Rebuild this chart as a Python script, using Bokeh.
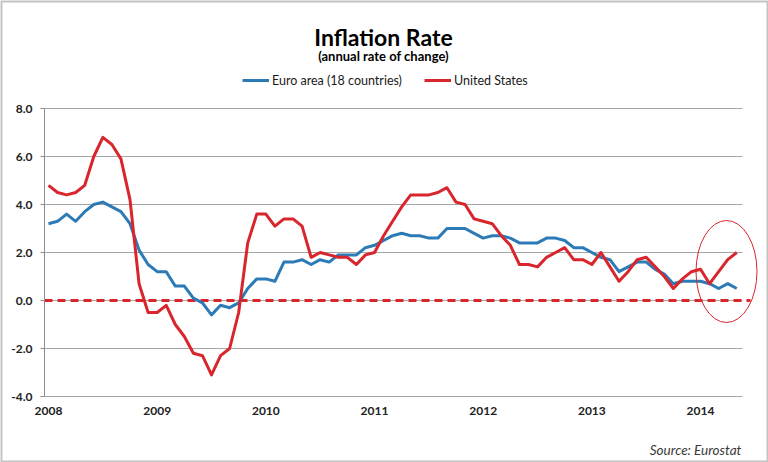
from bokeh.plotting import figure
from bokeh.models import (ColumnDataSource, FixedTicker, NumeralTickFormatter,
                          Legend, LegendItem)
from bokeh.core.properties import value
from bokeh.embed import file_html
from bokeh.resources import INLINE

# ---------------- data ----------------
years = ["2008", "2009", "2010", "2011", "2012", "2013", "2014"]
series_names = ["Euro area (18 countries)", "United States"]

euro = [3.2, 3.3, 3.6, 3.3, 3.7, 4.0, 4.1, 3.9, 3.7, 3.2, 2.1, 1.5,
        1.2, 1.2, 0.6, 0.6, 0.1, -0.1, -0.6, -0.2, -0.3, -0.1, 0.5, 0.9,
        0.9, 0.8, 1.6, 1.6, 1.7, 1.5, 1.7, 1.6, 1.9, 1.9, 1.9, 2.2,
        2.3, 2.5, 2.7, 2.8, 2.7, 2.7, 2.6, 2.6, 3.0, 3.0, 3.0, 2.8,
        2.6, 2.7, 2.7, 2.6, 2.4, 2.4, 2.4, 2.6, 2.6, 2.5, 2.2, 2.2,
        2.0, 1.8, 1.7, 1.2, 1.4, 1.6, 1.6, 1.3, 1.1, 0.7, 0.8, 0.8,
        0.8, 0.7, 0.5, 0.7, 0.5]

us = [4.8, 4.5, 4.4, 4.5, 4.8, 6.0, 6.8, 6.5, 5.9, 4.2, 0.7, -0.5,
      -0.5, -0.2, -1.0, -1.5, -2.2, -2.3, -3.1, -2.3, -2.0, -0.5, 2.4, 3.6,
      3.6, 3.1, 3.4, 3.4, 3.1, 1.8, 2.0, 1.9, 1.8, 1.8, 1.5, 1.9,
      2.0, 2.7, 3.3, 3.9, 4.4, 4.4, 4.4, 4.5, 4.7, 4.1, 4.0, 3.4,
      3.3, 3.2, 2.7, 2.3, 1.5, 1.5, 1.4, 1.8, 2.0, 2.2, 1.7, 1.7,
      1.5, 2.0, 1.4, 0.8, 1.2, 1.7, 1.8, 1.4, 1.0, 0.5, 0.9, 1.2,
      1.3, 0.7, 1.2, 1.7, 2.0]

yticks = [-4, -2, 0, 2, 4, 6, 8]
months = list(range(len(euro)))          # month index, 0 = Jan 2008
year_ticks = [12 * k for k in range(len(years))]

title_text = "Inflation Rate"
subtitle_text = "(annual rate of change)"
source_text = "Source:  Eurostat"

# ---------------- layout (canvas pixels -> data) ----------------
W, H = 768, 462
PX_MONTH = 9.056          # pixels per month
PX_UNIT = 24.0            # pixels per percentage point
X0_PX, Y0_PX = 48, 300    # canvas position of (Jan 2008, 0.0)

x_start = -X0_PX / PX_MONTH
x_end = x_start + W / PX_MONTH
y_end = Y0_PX / PX_UNIT
y_start = y_end - H / PX_UNIT


def px2x(px):
    return x_start + px / PX_MONTH


def py2y(py):
    return y_end - py / PX_UNIT


axis_x = px2x(44)         # vertical axis position
grid_end = px2x(742)
dash_end = px2x(750)

BLUE = "#2C7BB7"
RED = "#D8262C"
GRID = "#A6A6A6"
FONT = "Lato"

p = figure(width=W, height=H, x_range=(x_start, x_end), y_range=(y_start, y_end),
           output_backend="svg", toolbar_location=None, title=None,
           min_border=0, min_border_left=0, min_border_right=0,
           min_border_top=0, min_border_bottom=0)
p.outline_line_color = None
p.xgrid.visible = False
p.ygrid.visible = False
p.background_fill_color = "white"
p.border_fill_color = "white"

# chart border
p.quad(left=[x_start], right=[x_end], top=[y_end], bottom=[y_start], fill_color=None,
       line_color="#C4C4C4", line_width=4)

# grid lines
gsrc = ColumnDataSource(dict(x0=[axis_x] * len(yticks), x1=[grid_end] * len(yticks),
                             y=yticks))
p.segment(x0="x0", x1="x1", y0="y", y1="y", source=gsrc, line_color=GRID, line_width=1)

# zero reference line
p.segment(x0=[axis_x], x1=[dash_end], y0=[0], y1=[0], line_color=RED, line_width=3,
          line_dash="8 5")

src = ColumnDataSource(dict(m=months, euro=euro, us=us))
r_eu = p.line("m", "euro", source=src, line_color=BLUE, line_width=3, line_join="round")
r_us = p.line("m", "us", source=src, line_color=RED, line_width=3, line_join="round")

# highlight ellipse around the latest months
p.ellipse(x=[px2x(726)], y=[py2y(271)], width=[61 / PX_MONTH], height=[102 / PX_UNIT],
          fill_color=None, line_color=RED, line_width=1)

# axes (fixed inside the full-canvas frame)
p.yaxis.fixed_location = axis_x
p.yaxis.ticker = FixedTicker(ticks=yticks)
p.yaxis.formatter = NumeralTickFormatter(format="0.0")
p.yaxis.bounds = (yticks[0], yticks[-1])
p.yaxis.axis_line_color = "#8C8C8C"
p.yaxis.major_tick_line_color = "#8C8C8C"
p.yaxis.major_tick_out = 4
p.yaxis.major_tick_in = 0
p.yaxis.minor_tick_line_color = None
p.yaxis.major_label_standoff = 8
p.yaxis.major_label_text_font = FONT
p.yaxis.major_label_text_font_style = "bold"
p.yaxis.major_label_text_font_size = "12px"
p.yaxis.major_label_text_color = "#222222"

p.xaxis.fixed_location = yticks[0]
p.xaxis.ticker = FixedTicker(ticks=year_ticks)
p.xaxis.major_label_overrides = {t: y for t, y in zip(year_ticks, years)}
p.xaxis.axis_line_color = None
p.xaxis.major_tick_line_color = None
p.xaxis.minor_tick_line_color = None
p.xaxis.major_tick_out = 0
p.xaxis.major_label_standoff = 10
p.xaxis.major_label_text_font = FONT
p.xaxis.major_label_text_font_style = "bold"
p.xaxis.major_label_text_font_size = "12px"
p.xaxis.major_label_text_color = "#222222"

# titles and source
p.text(x=[px2x(383)], y=[py2y(36)], text=[title_text], text_align="center",
       text_baseline="alphabetic", text_font=value(FONT), text_font_style="bold",
       text_font_size=value("23px"), text_color="black")
p.text(x=[px2x(383)], y=[py2y(55)], text=[subtitle_text], text_align="center",
       text_baseline="alphabetic", text_font=value(FONT), text_font_style="bold",
       text_font_size=value("13px"), text_color="black")
p.text(x=[px2x(744)], y=[py2y(449)], text=[source_text], text_align="right",
       text_baseline="alphabetic", text_font=value(FONT), text_font_style="italic",
       text_font_size=value("13.5px"), text_color="#3a3a3a")

# legend
legend = Legend(items=[LegendItem(label=series_names[0], renderers=[r_eu]),
                       LegendItem(label=series_names[1], renderers=[r_us])],
                orientation="horizontal", location=(242, H - 88), padding=0, margin=0,
                spacing=22, glyph_width=27, glyph_height=16, label_height=16,
                label_standoff=3, border_line_color=None, background_fill_alpha=0,
                label_text_font=FONT, label_text_font_size="12.5px",
                label_text_color="#1a1a1a")
p.add_layout(legend, "center")

open("out.html", "w").write(file_html(p, INLINE))
